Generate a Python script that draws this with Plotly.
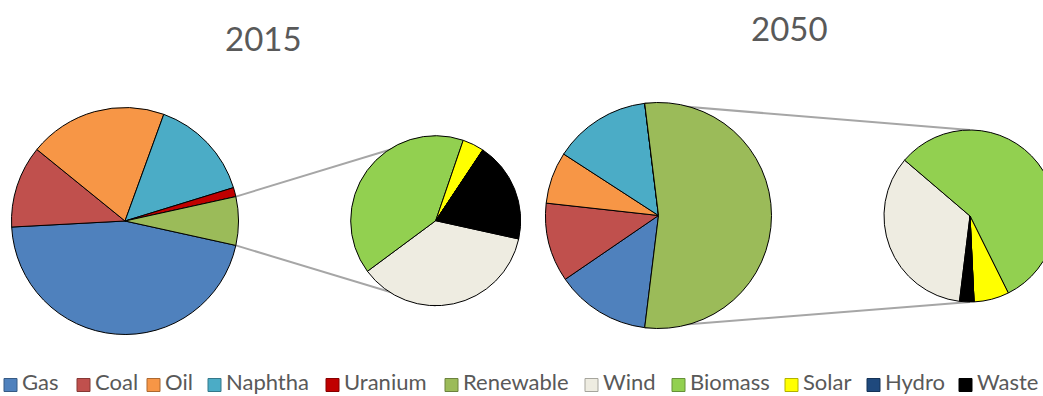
import math
import plotly.graph_objects as go

# --- data -------------------------------------------------------------
main_labels = ["Gas", "Coal", "Oil", "Naphtha", "Uranium", "Renewable"]
main_2015 = [45.7, 11.7, 19.7, 14.7, 1.3, 6.9]      # % of total supply
main_2050 = [13.5, 11.3, 7.4, 13.9, 0.0, 53.9]

renew_labels = ["Wind", "Biomass", "Solar", "Hydro", "Waste"]
renew_2015 = [36.4, 40.4, 4.1, 0.0, 19.1]           # % of renewable supply
renew_2050 = [34.3, 56.4, 6.6, 0.0, 2.7]

years = ["2015", "2050"]

colors = {
    "Gas": "#4F81BD", "Coal": "#C0504D", "Oil": "#F79646",
    "Naphtha": "#4BACC6", "Uranium": "#C00000", "Renewable": "#9BBB59",
    "Wind": "#EEECE1", "Biomass": "#92D050", "Solar": "#FFFF00",
    "Hydro": "#1F497D", "Waste": "#000000",
}

# --- canvas / placement (pixels) --------------------------------------
W, H = 1060, 396
FONT = "Lato"
TEXT = "#595959"

# (centre x, centre y, radius) of each primary and secondary pie
placement = {
    "2015": {"main": (125, 221, 113.5), "sub": (435.7, 220.7, 85)},
    "2050": {"main": (658.5, 215.5, 113), "sub": (970, 216, 86)},
}
title_pos = {"2015": (263.5, 38), "2050": (790, 28)}


def px(x):
    return x / W


def py(y):
    return 1 - y / H


def domain(cx, cy, r):
    return dict(x=[px(cx - r), px(cx + r)], y=[py(cy + r), py(cy - r)])


def darker(hex_color, f=0.7):
    h = hex_color.lstrip("#")
    rgb = [int(h[i:i + 2], 16) for i in (0, 2, 4)]
    return "#%02X%02X%02X" % tuple(int(c * f) for c in rgb)


fig = go.Figure()
shapes = []
annotations = []

for year, main_vals, sub_vals in zip(years, [main_2015, main_2050], [renew_2015, renew_2050]):
    other_share = main_vals[-1] / sum(main_vals)
    # the combined slice is centred on 3 o'clock; the secondary pie shares the rotation
    rotation = 90 + 180 * other_share
    (mcx, mcy, mr) = placement[year]["main"]
    (scx, scy, sr) = placement[year]["sub"]

    fig.add_trace(go.Pie(
        labels=main_labels, values=main_vals, sort=False, direction="clockwise",
        rotation=rotation, domain=domain(mcx, mcy, mr), textinfo="none",
        marker=dict(colors=[colors[l] for l in main_labels], line=dict(color="black", width=1)),
        showlegend=False, name=year,
    ))
    fig.add_trace(go.Pie(
        labels=renew_labels, values=sub_vals, sort=False, direction="clockwise",
        rotation=rotation, domain=domain(scx, scy, sr), textinfo="none",
        marker=dict(colors=[colors[l] for l in renew_labels], line=dict(color="black", width=1)),
        showlegend=False, name=year + " renewables",
    ))

    # connector lines from the edges of the combined slice to the secondary pie
    half = math.pi * other_share
    top = (mcx + mr * math.cos(half), mcy - mr * math.sin(half))
    bot = (mcx + mr * math.cos(half), mcy + mr * math.sin(half))
    for (x0, y0), (x1, y1) in [(top, (scx, scy - sr)), (bot, (scx, scy + sr))]:
        shapes.append(dict(type="line", xref="paper", yref="paper", layer="below",
                           x0=px(x0), y0=py(y0), x1=px(x1), y1=py(y1),
                           line=dict(color="#A6A6A6", width=2)))

    tx, ty = title_pos[year]
    annotations.append(dict(text=year, x=px(tx), y=py(ty), xref="paper", yref="paper",
                            xanchor="center", yanchor="middle", showarrow=False,
                            font=dict(family=FONT, size=33, color=TEXT)))

# --- legend row ---------------------------------------------------------
legend_labels = main_labels + renew_labels
legend_x = [4, 77, 147, 208, 326, 445, 585, 672, 785, 867, 959]
for lab, sx in zip(legend_labels, legend_x):
    shapes.append(dict(type="rect", xref="paper", yref="paper",
                       x0=px(sx), x1=px(sx + 13), y0=py(391.5), y1=py(378.5),
                       fillcolor=colors[lab], line=dict(color=darker(colors[lab]), width=1)))
    annotations.append(dict(text=lab, x=px(sx + 16.5), y=py(395.5), xref="paper", yref="paper",
                            xanchor="left", yanchor="bottom", showarrow=False, borderpad=0,
                            font=dict(family=FONT, size=22, color=TEXT)))

fig.update_layout(
    width=W, height=H, autosize=False,
    margin=dict(l=0, r=0, t=0, b=0),
    paper_bgcolor="white", plot_bgcolor="white",
    shapes=shapes, annotations=annotations,
    font=dict(family=FONT, color=TEXT),
)

fig.write_html("out.html")
